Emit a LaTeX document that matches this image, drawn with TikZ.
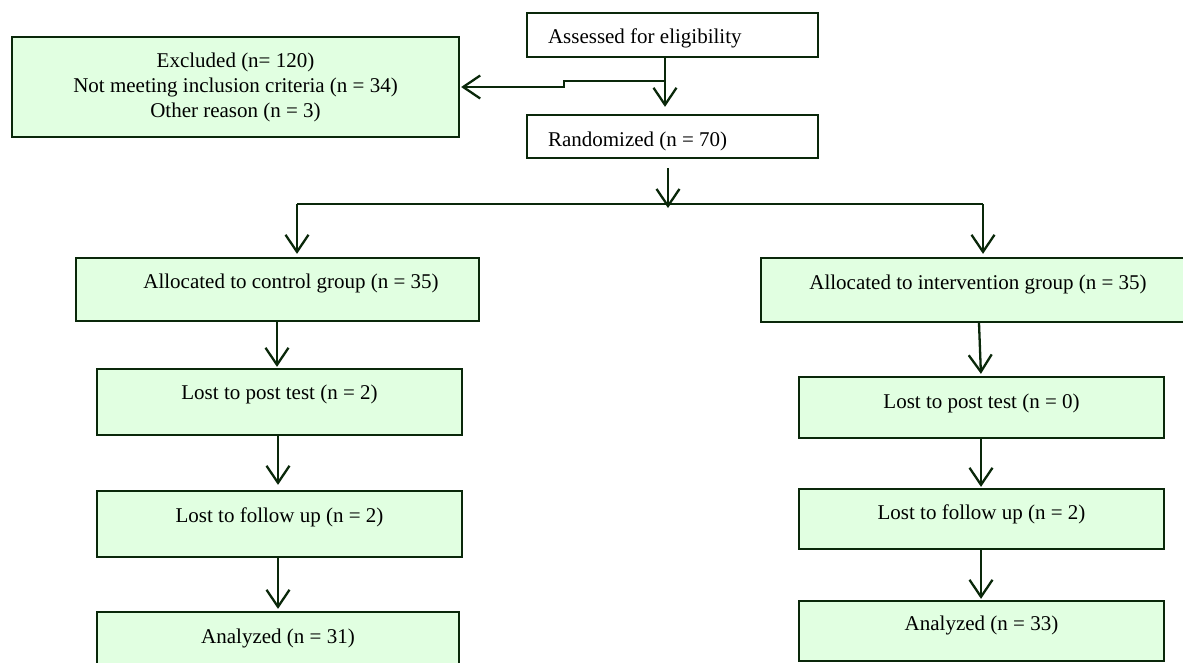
\documentclass[tikz,border=0pt]{standalone}
\usepackage{fontspec}
\setmainfont{Liberation Serif}
\usetikzlibrary{arrows.meta,calc}
\definecolor{boxfill}{RGB}{225,255,225}
\definecolor{dkgreen}{RGB}{10,40,10}
\begin{document}
\begin{tikzpicture}[x=1pt,y=-1pt,
  every node/.style={font=\fontsize{21}{25}\selectfont},
  gbox/.style={draw=dkgreen, line width=2.3pt, fill=boxfill, inner sep=0pt, text height=15pt, align=center},
  wbox/.style={draw=dkgreen, line width=2.3pt, fill=white, inner xsep=21pt, inner ysep=0pt, text width=249pt, align=flush left},
  arr/.style={draw=dkgreen, line width=2.3pt, -{Straight Barb[length=17pt,width=23pt,line width=2.3pt]}},
  thin/.style={draw=dkgreen, line width=1.4pt}]
\useasboundingbox (0,0) rectangle (1183,662);

% top boxes
\node[wbox, minimum height=44pt, text height=20pt, text depth=4pt] (assess) at (672.5,35) {Assessed for eligibility};
\node[wbox, minimum height=43pt, text height=20pt, text depth=1pt] (rand) at (672.5,136.5) {Randomized (n = 70)};
\node[gbox, minimum width=447pt, minimum height=100pt, text height=, text depth=] (excl) at (235.5,87) {Excluded (n= 120)\\Not meeting inclusion criteria (n = 34)\\Other reason (n = 3)};

% control arm
\node[gbox, minimum width=403pt, minimum height=63pt, text depth=18pt] (c1) at (277.5,289.5) {\hspace*{27pt}Allocated to control group (n = 35)};
\node[gbox, minimum width=365pt, minimum height=66pt, text depth=21pt] (c2) at (279.5,402) {Lost to post test (n = 2)};
\node[gbox, minimum width=365pt, minimum height=66pt, text depth=19pt] (c3) at (279.5,524) {Lost to follow up (n = 2)};
\node[gbox, minimum width=362pt, minimum height=66pt, text depth=19pt] (c4) at (278,645) {Analyzed (n = 31)};

% intervention arm
\node[gbox, minimum width=434pt, minimum height=64pt, text depth=17pt] (i1) at (978,290) {Allocated to intervention group (n = 35)};
\node[gbox, minimum width=365pt, minimum height=61pt, text depth=14pt] (i2) at (981.5,407.5) {Lost to post test (n = 0)};
\node[gbox, minimum width=365pt, minimum height=60pt, text depth=15pt] (i3) at (981.5,519) {Lost to follow up (n = 2)};
\node[gbox, minimum width=365pt, minimum height=60pt, text depth=17pt] (i4) at (981.5,631) {Analyzed (n = 33)};

% connectors at the top
\coordinate (aOut) at ($(assess.south)+(-7.5,0)$);
\coordinate (jEx) at (665,81);
\coordinate (step) at (564,81);
\draw[arr, shorten >=7pt] (aOut) -- (aOut |- rand.north);
\draw[arr, shorten >=1pt] (jEx) -- (step) |- (excl.east);

% split
\coordinate (rOut) at (668,168);
\coordinate (hl) at (297,204);
\coordinate (hr) at (983,204);
\draw[arr] (rOut) -- (668,208);
\draw[thin] (hl) -- (hr);
\draw[arr, shorten >=3pt] (hl) -- (hl |- c1.north);
\draw[arr, shorten >=3pt] (hr) -- (hr |- i1.north);

% control arrows
\draw[arr, shorten >=1pt] (c1.south -| 277,0) -- (c2.north -| 277,0);
\draw[arr, shorten >=5pt] (c2.south -| 278,0) -- (c3.north -| 278,0);
\draw[arr, shorten >=2pt] (c3.south -| 278,0) -- (c4.north -| 278,0);

% intervention arrows
\draw[arr, shorten >=2pt] (i1.south -| 979,0) -- (i2.north -| 981,0);
\draw[arr, shorten >=1pt] (i2.south -| 981,0) -- (i3.north -| 981,0);
\draw[arr, shorten >=1pt] (i3.south -| 981,0) -- (i4.north -| 981,0);
\end{tikzpicture}
\end{document}
